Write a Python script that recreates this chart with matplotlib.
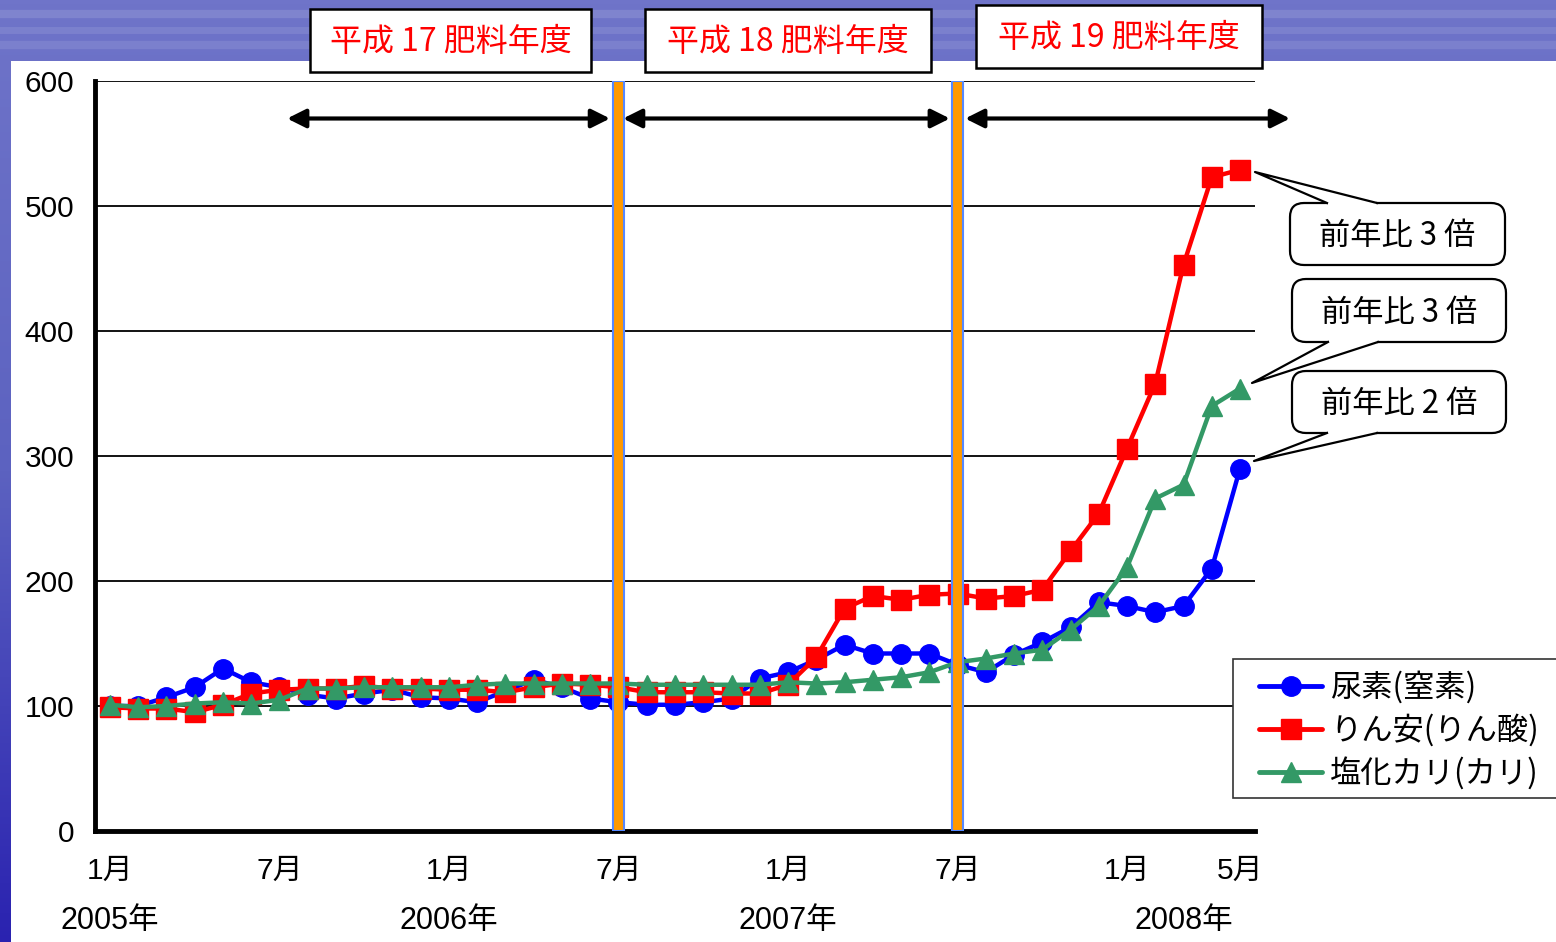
import numpy as np
import matplotlib
matplotlib.use("Agg")
import matplotlib.pyplot as plt
from matplotlib.patches import Rectangle, FancyBboxPatch, Polygon
from matplotlib.colors import LinearSegmentedColormap

plt.rcParams['font.family'] = ['Liberation Sans', 'Noto Sans CJK JP', 'DejaVu Sans']

# ---- data (index: months from 2005-01 to 2008-05) ----
urea = [100, 100, 107, 115, 130, 119, 115, 109, 106, 110, 113, 107, 106, 103, 112,
        121, 115, 106, 103, 101, 101, 103, 106, 122, 127, 137, 149, 142, 142, 142,
        133, 127, 141, 151, 163, 183, 180, 175, 180, 210, 290]
phos = [99, 98, 98, 95, 101, 110, 113, 114, 114, 116, 114, 114, 113, 113, 111,
        115, 118, 117, 115, 111, 111, 111, 110, 110, 117, 139, 178, 188, 185, 189,
        190, 186, 188, 193, 224, 254, 306, 358, 453, 523, 529]
pot = [101, 99, 100, 102, 103, 102, 105, 114, 114, 115, 115, 115, 115, 117, 118,
       118, 118, 118, 118, 117, 117, 117, 117, 117, 119, 118, 119, 121, 123, 127,
       135, 138, 142, 145, 161, 180, 211, 266, 277, 340, 354]
series_names = ['尿素(窒素)', 'りん安(りん酸)', '塩化カリ(カリ)']
month_ticks = [0, 6, 12, 18, 24, 30, 36, 40]
month_labels = ['1月', '7月', '1月', '7月', '1月', '7月', '1月', '5月']
year_pos = [0, 12, 24, 38]
year_labels = ['2005年', '2006年', '2007年', '2008年']
fy_labels = ['平成 17 肥料年度', '平成 18 肥料年度', '平成 19 肥料年度']
fy_bars = [18, 30]
callouts = ['前年比 3 倍', '前年比 3 倍', '前年比 2 倍']

W, H = 1556, 942
fig = plt.figure(figsize=(W / 100, H / 100), dpi=100)

# ---- background ----
bg = fig.add_axes([0, 0, 1, 1], zorder=-10)
bg.set_xlim(0, W)
bg.set_ylim(H, 0)
bg.axis('off')
grad = np.linspace(0, 1, 256).reshape(-1, 1)
cmap = LinearSegmentedColormap.from_list('bgc', ['#6f74c9', '#5c62c0', '#2a22b0'])
bg.imshow(grad, extent=[0, W, H, 0], aspect='auto', cmap=cmap)
for yy, a, lw in [(14, 0.12, 6), (30, 0.10, 5), (45, 0.10, 6)]:
    bg.plot([0, W], [yy, yy], color='white', alpha=a, lw=lw)
bg.add_patch(Rectangle((11, 61), W - 11, H - 61, facecolor='white', edgecolor='none'))

# ---- main axes ----
L, R, T, B = 95, 1255, 81, 831
ax = fig.add_axes([L / W, 1 - B / H, (R - L) / W, (B - T) / H])
ax.set_facecolor('white')
ax.set_xlim(-0.53, 40.53)
ax.set_ylim(0, 600)
for s in ['top', 'right']:
    ax.spines[s].set_visible(False)
for s in ['left', 'bottom']:
    ax.spines[s].set_linewidth(3.5)
    ax.spines[s].set_color('black')
ax.set_yticks(range(0, 601, 100))
ax.tick_params(axis='y', length=0, pad=15, labelsize=21.5)
ax.set_xticks([])
for v in range(100, 601, 100):
    ax.axhline(v, color='black', lw=1.3, zorder=1)

x = np.arange(len(urea))
ax.plot(x, urea, color='#0000ff', lw=3.2, marker='o', ms=14, zorder=3, clip_on=False)
ax.plot(x, phos, color='#ff0000', lw=3.2, marker='s', ms=14, zorder=4, clip_on=False)
ax.plot(x, pot, color='#339966', lw=3.2, marker='^', ms=15, zorder=5, clip_on=False)

# fiscal year separators
for b in fy_bars:
    ax.axvspan(b - 0.2, b + 0.2, facecolor='#ff9900', edgecolor='#5588ff', lw=1.5, zorder=6)

# arrows
arrow_spans = [(6.27, 17.7), (18.16, 29.73), (30.27, 41.77)]
for a0, a1 in arrow_spans:
    ax.annotate('', xy=(a0, 570), xytext=(a1, 570),
                arrowprops=dict(arrowstyle='<|-|>', color='black', lw=3,
                                mutation_scale=28, shrinkA=0, shrinkB=0),
                annotation_clip=False, zorder=7)

# x labels
tr = ax.get_xaxis_transform()
for p, lab in zip(month_ticks, month_labels):
    ax.text(p, (B - 871) / (B - T), lab, transform=tr, ha='center', va='center', fontsize=21.5)
for p, lab in zip(year_pos, year_labels):
    ax.text(p, (B - 921) / (B - T), lab, transform=tr, ha='center', va='center', fontsize=22)

# overlay axes for pixel-based annotations
ov = fig.add_axes([0, 0, 1, 1], zorder=20)
ov.set_xlim(0, W)
ov.set_ylim(H, 0)
ov.axis('off')
ov.patch.set_alpha(0)

# fiscal year title boxes
fy_boxes = [(310, 9, 591, 72), (645, 9, 931, 72), (976, 5, 1262, 68)]
for (x0, y0, x1, y1), lab in zip(fy_boxes, fy_labels):
    ov.add_patch(Rectangle((x0, y0), x1 - x0, y1 - y0, facecolor='white', edgecolor='black', lw=1.8))
    ov.text((x0 + x1) / 2, (y0 + y1) / 2 + 1, lab, ha='center', va='center', fontsize=23,
            color='#ff0000', family=['Noto Sans CJK JP'])

# callouts
cboxes = [(1290, 203, 1505, 265), (1292, 279, 1506, 342), (1292, 371, 1506, 433)]
tails = [((1327, 203), (1377, 203), (1255, 172)),
         ((1328, 342), (1378, 342), (1252, 383)),
         ((1327, 433), (1377, 433), (1254, 461))]
for (x0, y0, x1, y1), (b0, b1, tip), lab in zip(cboxes, tails, callouts):
    ov.add_patch(FancyBboxPatch((x0, y0), x1 - x0, y1 - y0,
                                boxstyle='round,pad=0,rounding_size=14',
                                facecolor='white', edgecolor='black', lw=1.6))
    ov.add_patch(Polygon([b0, tip, b1], closed=True, facecolor='white', edgecolor='none'))
    ov.add_patch(Rectangle((b0[0] + 1, b0[1] - 2), b1[0] - b0[0] - 2, 4,
                           facecolor='white', edgecolor='none'))
    ov.plot([b0[0], tip[0], b1[0]], [b0[1], tip[1], b1[1]], color='black', lw=1.6)
    ov.text((x0 + x1) / 2, (y0 + y1) / 2 + 2, lab, ha='center', va='center', fontsize=22.5,
            color='black', family=['Noto Sans CJK JP'])

# legend
ov.add_patch(Rectangle((1233, 659), 340, 139, facecolor='white', edgecolor='#333333', lw=1.2))
leg_style = [('#0000ff', 'o', 14), ('#ff0000', 's', 14), ('#339966', '^', 15)]
for i, ((c, m, ms), lab) in enumerate(zip(leg_style, series_names)):
    yy = 686 + i * 43
    ov.plot([1259, 1322], [yy, yy], color=c, lw=3.5, solid_capstyle='round')
    ov.plot([1291], [yy], color=c, marker=m, ms=ms)
    ov.text(1330, yy + 1, lab, ha='left', va='center', fontsize=22.5,
            family=['Noto Sans CJK JP'])

fig.savefig('out.png', dpi=100)
